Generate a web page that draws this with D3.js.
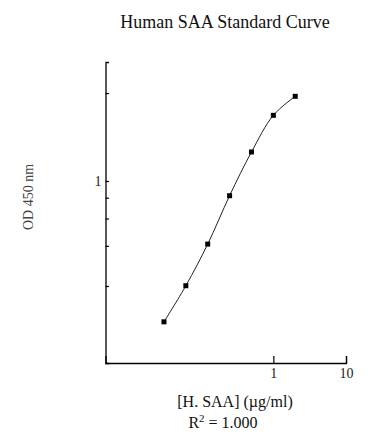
<!DOCTYPE html>
<html>
<head>
<meta charset="utf-8">
<script src="https://cdn.jsdelivr.net/npm/d3@7"></script>
<style>
  body { margin: 0; background: #fff; }
  svg { display: block; font-family: "Liberation Serif", "DejaVu Serif", serif; }
</style>
</head>
<body>
<div id="chart"></div>
<script>
// standard concentrations (ug/ml) and OD readings
var conc = [0.03125, 0.0625, 0.125, 0.25, 0.5, 1, 2];
var od = [0.085, 0.201, 0.411, 0.822, 1.452, 2.289, 2.884];

var xTicks = [1, 10];
var yTicks = [0.2, 0.4, 0.6, 0.8, 1, 3];
var yLabelled = [1];

var width = 388, height = 446;

var svg = d3.select("#chart").append("svg")
  .attr("width", width)
  .attr("height", height);

// log x, compressed log-ish y
var x = d3.scaleLog().domain([0.0049, 10]).range([105.5, 346]);
var y = d3.scaleSymlog().constant(0.14).domain([0, 4.35]).range([363, 62]);

// x axis
var xAxis = d3.axisBottom(x)
  .tickValues(xTicks)
  .tickSize(-7)
  .tickPadding(5)
  .tickFormat(d3.format("d"));

var gx = svg.append("g")
  .attr("transform", "translate(0," + y.range()[0] + ")")
  .call(xAxis);

// y axis
var yAxis = d3.axisLeft(y)
  .tickValues(yTicks)
  .tickSize(-3.5)
  .tickPadding(4)
  .tickFormat(function(d){ return yLabelled.indexOf(d) >= 0 ? d : ""; });

var gy = svg.append("g")
  .attr("transform", "translate(" + x.range()[0] + ",0)")
  .call(yAxis);

[gx, gy].forEach(function(g){
  g.select(".domain").attr("stroke", "#000").attr("stroke-width", 1.3);
  g.selectAll(".tick line").attr("stroke", "#000").attr("stroke-width", 1.2);
  g.selectAll(".tick text")
    .attr("fill", "#222")
    .style("font-size", "14px")
    .style("font-family", "Liberation Serif, serif");
});

// fitted curve
var pts = conc.map(function(c, i){ return [x(c), y(od[i])]; });
var line = d3.line().curve(d3.curveCatmullRom.alpha(0.5));

svg.append("path")
  .attr("d", line(pts))
  .attr("fill", "none")
  .attr("stroke", "#222")
  .attr("stroke-width", 1);

// square markers
var s = 5;
svg.append("g").selectAll("rect")
  .data(conc)
  .enter()
  .append("rect")
  .attr("x", function(d){ return x(d) - s/2; })
  .attr("y", function(d, i){ return y(od[i]) - s/2; })
  .attr("width", s)
  .attr("height", s)
  .attr("fill", "#000");

// title
svg.append("text")
  .attr("x", 225)
  .attr("y", 28)
  .attr("text-anchor", "middle")
  .style("font-size", "18px")
  .attr("fill", "#111")
  .text("Human SAA Standard Curve");

// y label
svg.append("text")
  .attr("transform", "translate(33,197) rotate(-90)")
  .attr("text-anchor", "middle")
  .style("font-size", "14px")
  .attr("fill", "#444")
  .text("OD 450 nm");

// x label
svg.append("text")
  .attr("x", 235)
  .attr("y", 407)
  .attr("text-anchor", "middle")
  .style("font-size", "16px")
  .attr("fill", "#111")
  .text("[H. SAA] (\u00b5g/ml)");

var r2 = svg.append("text")
  .attr("x", 223)
  .attr("y", 428)
  .attr("text-anchor", "middle")
  .style("font-size", "16px")
  .attr("fill", "#111");
r2.append("tspan").text("R");
r2.append("tspan").attr("dy", -6).style("font-size", "11px").text("2");
r2.append("tspan").attr("dy", 6).text(" = 1.000");
</script>
</body>
</html>
